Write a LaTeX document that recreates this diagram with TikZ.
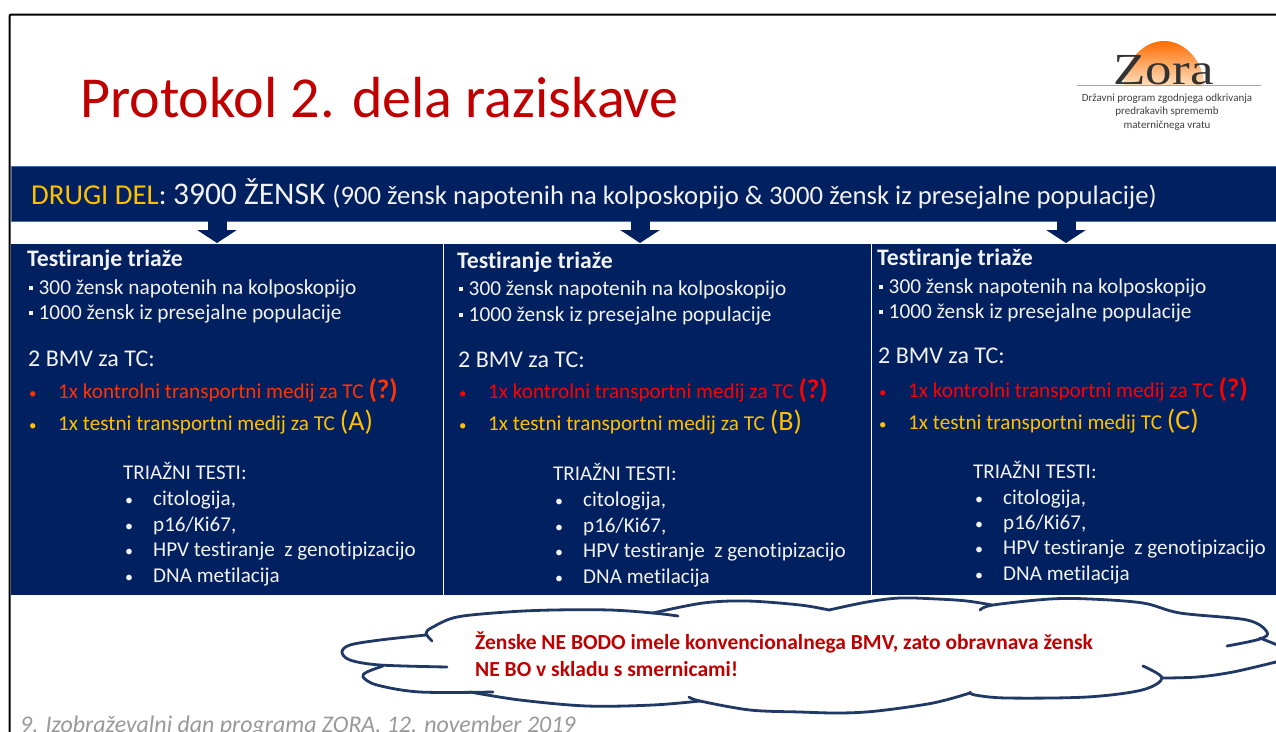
\documentclass[tikz,border=0pt]{standalone}
\usepackage{fontspec}
\setmainfont{Carlito}[Ligatures=NoCommon]
\newfontfamily\zorafont{Liberation Serif}
\usetikzlibrary{arrows.meta}
\definecolor{navy}{HTML}{002060}
\definecolor{edgeb}{HTML}{4A6FA5}
\definecolor{gold}{HTML}{FFC000}
\definecolor{hred}{HTML}{FF3300}
\definecolor{cloudb}{HTML}{1F3864}
\definecolor{warnred}{HTML}{C00000}
\definecolor{txt}{HTML}{F2F2F2}
\newcommand\fs[1]{\fontsize{#1}{#1}\selectfont}
\newcommand\sqb{\raisebox{4.5pt}{\rule{3.5pt}{3.5pt}}\hspace{6pt}}
\tikzset{
  tx/.style={anchor=base west,inner sep=0pt,yshift=-7pt,text=txt},
  panel/.style={fill=navy,draw=none,anchor=north west,inner sep=0pt,minimum height=#1},
  blockarrow/.style={line width=19pt,draw=navy,-{Triangle[length=13pt,width=39pt]},shorten >=0pt},
  cloudline/.style={draw=cloudb,line width=2.8pt,line cap=round,line join=round},
}
\begin{document}
\begin{tikzpicture}[x=1pt,y=-1pt]
\useasboundingbox (0,0) rectangle (1276,731);
\clip (0,0) rectangle (1276,731);
\fill[white] (0,0) rectangle (1276,731);
% slide frame
\draw[black,line width=2pt,rounded corners=2pt] (9.5,735) -- (9.5,14.5) -- (1280,14.5);
% title
\node[anchor=base west,inner sep=0pt,text=warnred] (title) at (80,117) {\fs{58}Protokol 2. dela raziskave};
% logo
\shade[top color=orange!85!red,bottom color=orange!25!white]
  (1124,85) .. controls (1124,63) and (1142,41) .. (1164,41) .. controls (1186,41) and (1204,63) .. (1204,85) -- cycle;
\draw[gray!70,line width=1pt] (1077,85) -- (1261,85);
\node[anchor=base,inner sep=0pt,text=black!80] (zora) at (1163.5,84) {\scalebox{1.04}[.87]{\zorafont\fs{51}Zora}};
\node[anchor=base,inner sep=0pt,text=black!75] (l1) at (1167,101) {\fs{11}Državni program zgodnjega odkrivanja};
\node[anchor=base,inner sep=0pt,text=black!75] (l2) at (1167,114.5) {\fs{11}predrakavih sprememb};
\node[anchor=base,inner sep=0pt,text=black!75] (l3) at (1167,128) {\fs{11}materničnega vratu};
% header
\node[panel=55pt,minimum width=1270pt,draw=edgeb,line width=.6pt] (hdr) at (11,166) {};
\node[tx] (h1) at (31,197) {\fs{28.8}\textcolor{gold}{DRUGI DEL}: \fs{31.5}3900 ŽENSK \fs{26.7}(900 žensk napotenih na kolposkopijo \& 3000 žensk iz presejalne populacije)};
% panels
\node[panel=351pt,minimum width=432pt] (p1) at (11,244) {};
\node[panel=351pt,minimum width=427pt] (p2) at (444,244) {};
\node[panel=351pt,minimum width=410pt] (p3) at (872,244) {};
% block arrows
\coordinate (a1s) at (217,221); \coordinate (a1e) at (217,243);
\coordinate (a2s) at (640,221); \coordinate (a2e) at (640,243);
\coordinate (a3s) at (1066,221); \coordinate (a3e) at (1066,243);
\draw[blockarrow] (a1s) -- (a1e);
\draw[blockarrow] (a2s) -- (a2e);
\draw[blockarrow] (a3s) -- (a3e);
% columns
\foreach \id/\dx/\ya/\yb/\yc/\yd/\ye/\yf/\yg/\yh/\yi/\yj/\yk/\rc/\med/\ltr in {
  a/0/259/287/312/359/391/423/472/498/524/549/575/hred/1x testni transportni medij za TC/A,
  b/430/261/288/314/360/391/423/473/499/525/550/576/red/1x testni transportni medij za TC/B,
  c/850/258/286/311/356/390/422/471/497/522/547/573/red/1x testni transportni medij TC/C}
{
  \node[tx] (\id h) at (27+\dx,\ya) {\fs{23.7}\textbf{Testiranje triaže}};
  \node[tx] (\id i) at (29+\dx,\yb) {\fs{21.3}\sqb 300 žensk napotenih na kolposkopijo};
  \node[tx] (\id j) at (29+\dx,\yc) {\fs{21.3}\sqb 1000 žensk iz presejalne populacije};
  \node[tx] (\id m) at (28+\dx,\yd) {\fs{24}2 BMV za TC:};
  \node[tx,text=\rc] (\id rb) at (29+\dx,\ye) {\fs{15}•};
  \node[tx,text=\rc] (\id r) at (58+\dx,\ye) {\fs{21.2}1x kontrolni transportni medij za TC \fs{27}\textbf{(?)}};
  \node[tx,text=gold] (\id yb) at (29+\dx,\yf) {\fs{15}•};
  \node[tx,text=gold] (\id y) at (58+\dx,\yf) {\fs{21.2}\med{} \fs{28}(\ltr)};
  \node[tx] (\id t) at (123+\dx,\yg) {\fs{21}TRIAŽNI TESTI:};
  \node[tx] (\id b1) at (125+\dx,\yh) {\fs{16}•};
  \node[tx] (\id e1) at (153+\dx,\yh) {\fs{21.1}citologija,};
  \node[tx] (\id b2) at (125+\dx,\yi) {\fs{16}•};
  \node[tx] (\id e2) at (153+\dx,\yi) {\fs{21.1}p16/Ki67,};
  \node[tx] (\id b3) at (125+\dx,\yj) {\fs{16}•};
  \node[tx] (\id e3) at (153+\dx,\yj) {\fs{21.1}HPV testiranje\ \ z genotipizacijo};
  \node[tx] (\id b4) at (125+\dx,\yk) {\fs{16}•};
  \node[tx] (\id e4) at (153+\dx,\yk) {\fs{21.1}DNA metilacija};
}
% cloud
\draw[cloudline] plot[smooth,tension=.55] coordinates {(678,616) (653,613) (610,610) (553,610) (507,612) (457,617) (433,627) (426,633) (432,641)};
\draw[cloudline] plot[smooth,tension=.55] coordinates {(426,635) (380,640) (350,645) (342,652) (350,660) (380,665) (447,667)};
\draw[cloudline] plot[smooth,tension=.55] coordinates {(383,666) (367,672) (363,677) (377,685) (420,692) (493,692)};
\draw[cloudline] plot[smooth,tension=.55] coordinates {(470,692) (520,700) (587,706) (653,705) (700,701)};
\draw[cloudline] plot[smooth,tension=.55] coordinates {(689,697) (700,701) (750,710) (800,712) (840,713) (877,711) (933,703) (970,693)};
\draw[cloudline] plot[smooth,tension=.55] coordinates {(970,692) (975,695) (1007,698) (1087,697) (1142,690) (1162,678) (1143,666)};
\draw[cloudline] plot[smooth,tension=.55] coordinates {(1162,678) (1197,677) (1233,672) (1280,661)};
\draw[cloudline] (1260,638) -- (1280,646);
\draw[cloudline] plot[smooth,tension=.55] coordinates {(1227,646) (1260,639) (1267,632) (1247,620) (1180,613) (1143,603) (1090,599) (1050,599) (993,605) (980,610)};
\draw[cloudline] plot[smooth,tension=.55] coordinates {(992,605) (967,601) (937,599) (900,598) (867,602) (829,610)};
\draw[cloudline] plot[smooth,tension=.55] coordinates {(829,610) (800,605) (747,601) (703,603) (653,613)};
\node[anchor=base west,inner sep=0pt,text=warnred] (w1) at (475,649.5) {\fs{21.5}\textbf{Ženske NE BODO imele konvencionalnega BMV, zato obravnava žensk}};
\node[anchor=base west,inner sep=0pt,text=warnred] (w2) at (475,676.5) {\fs{21.5}\textbf{NE BO v skladu s smernicami!}};
% footer
\node[anchor=base west,inner sep=0pt,text=black!40] (foot) at (20,732) {\fs{23.9}\textit{9. Izobraževalni dan programa ZORA, 12. november 2019}};
\end{tikzpicture}
\end{document}
